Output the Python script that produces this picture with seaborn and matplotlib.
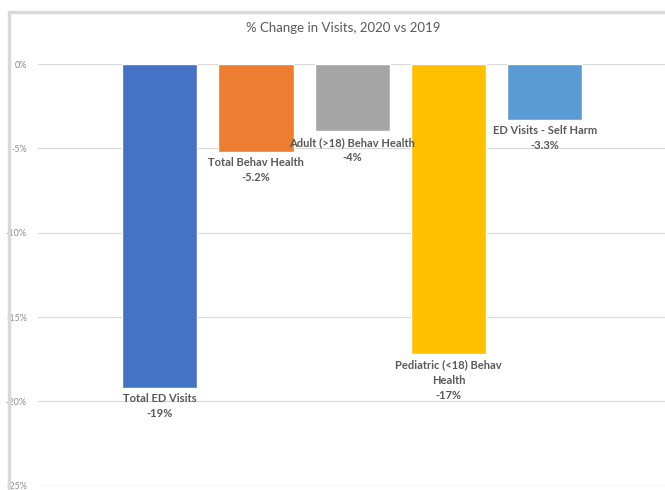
import matplotlib
matplotlib.use("Agg")
import matplotlib.pyplot as plt
import seaborn as sns
import pandas as pd
from matplotlib.patches import Rectangle

categorias = ["Total ED Visits", "Total Behav Health", "Adult (>18) Behav Health",
              "Pediatric (<18) Behav\nHealth", "ED Visits - Self Harm"]
variacao = [-19.2, -5.2, -4.0, -17.2, -3.3]
rotulos = ["-19%", "-5.2%", "-4%", "-17%", "-3.3%"]
cores = ["#4472C4", "#ED7D31", "#A5A5A5", "#FFC000", "#5B9BD5"]
ticks_y = [0, -5, -10, -15, -20, -25]

df = pd.DataFrame({"Categoria": categorias, "Variacao": variacao})

sns.set_style("white")
plt.rcParams["font.family"] = ["Lato", "DejaVu Sans"]
plt.rcParams["axes.unicode_minus"] = False

fig = plt.figure(figsize=(6.65, 4.9), dpi=100)
ax = fig.add_axes([38 / 665, 1 - 485.7 / 490, 1 - 38 / 665, (485.7 - 64) / 490])

sns.barplot(data=df, x="Categoria", y="Variacao", hue="Categoria",
            palette=cores, saturation=1, width=0.78, legend=False, ax=ax, zorder=3)

ax.set_ylim(-25, 0)
ax.set_xlim(-1.265, 5.25)
ax.set_yticks(ticks_y)
ax.set_yticklabels([f"{t}%" for t in ticks_y], fontsize=6.5, color="#8c8c8c")
ax.tick_params(axis="y", length=0, pad=8)
ax.set_xticks([])
ax.set_xlabel("")
ax.set_ylabel("")
ax.grid(axis="y", color="#d9d9d9", linewidth=0.9, zorder=0)
for s in ax.spines.values():
    s.set_visible(False)

for i, (nome, v, r) in enumerate(zip(categorias, variacao, rotulos)):
    ax.annotate(f"{nome}\n{r}", xy=(i, v), xytext=(0, -4), textcoords="offset points",
                ha="center", va="top", fontsize=8, fontweight="bold",
                color="#595959", linespacing=1.45, zorder=5)

fig.text(343 / 665, 1 - 28 / 490, "% Change in Visits, 2020 vs 2019",
         ha="center", va="center", fontsize=9.5, color="#595959")

# moldura do gráfico
fig.patches.append(Rectangle((9 / 665, -0.1), 1.2, 1 - 12 / 490 + 0.1,
                             transform=fig.transFigure, fill=False,
                             edgecolor="#d9d9d9", linewidth=2.5))

fig.savefig("out.png", dpi=100, facecolor="white")
